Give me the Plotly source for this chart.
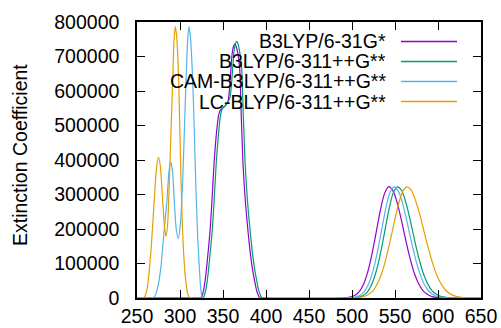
import plotly.graph_objects as go

# ---- data ----
labels = ["B3LYP/6-31G*", "B3LYP/6-311++G**", "CAM-B3LYP/6-311++G**", "LC-BLYP/6-311++G**"]
colors = ["#9400D3", "#009E73", "#56B4E9", "#E69F00"]

b3_631_x = [250, 318, 324.4, 327, 329.1, 332, 334.9, 337, 339.5, 342.2, 345, 347.3, 351.9, 355.8, 358.5, 360.5,
            362.2, 363.6, 365.2, 367.2, 369.4, 371.3, 373.3, 376, 379.1, 382, 384.5, 386.9, 389.5, 392.7, 397, 490,
            496, 503, 508, 513, 518, 523, 528, 533, 538, 543, 548, 553, 558, 563, 568, 573, 578, 583, 588, 593, 601, 610, 650]
b3_631_y = [0, 0, 1000, 18000, 48000, 115000, 193000, 275000, 386000, 473000, 531000, 546000, 555000, 570000, 638000, 705000,
            729000, 736000, 730000, 710000, 665000, 525000, 386000, 280000, 193000, 125000, 80000, 48000, 18000, 1000, 0, 0,
            1600, 7000, 17000, 38000, 73000, 125000, 189000, 255000, 304000, 323000, 309000, 272000, 219000, 162000, 110000, 68000, 39000, 20000, 10000, 4000, 1000, 0, 0]

b3_311_x = [250, 321, 327, 329.5, 331.6, 334.5, 337.4, 339.5, 342, 344.7, 347.5, 349.8, 354.3, 358, 360.8, 362.8,
            364.5, 365.8, 367.3, 369.3, 371.6, 373.6, 375.8, 378.5, 381.6, 384.5, 387, 389.4, 392, 395.3, 399, 493,
            506, 513, 518, 523, 528, 533, 538, 543, 548, 553, 558, 563, 568, 573, 578, 583, 588, 593, 598, 603, 611, 620, 650]
b3_311_y = [0, 0, 1000, 18000, 48000, 115000, 193000, 275000, 386000, 473000, 535000, 552000, 562000, 580000, 650000, 715000,
            738000, 744000, 738000, 715000, 670000, 530000, 386000, 280000, 193000, 125000, 80000, 48000, 18000, 1000, 0, 0,
            1700, 7500, 18000, 40000, 76000, 128000, 192000, 257000, 305000, 322000, 310000, 274000, 222000, 165000, 113000, 71000, 41000, 21500, 11000, 4600, 1200, 0, 0]

cam_x = [250, 267, 270.1, 274, 277.9, 281, 284.9, 287.3, 289.2, 291.2, 293.4, 295.6, 298, 300.5, 303.1, 305, 307, 309,
         310.5, 312.2, 314.8, 316.8, 318.6, 320.5, 322.4, 324, 325.5, 328, 495,
         502, 509, 514, 519, 524, 529, 534, 539, 544, 549, 554, 559, 564, 569, 574, 579, 584, 589, 594, 599, 607, 616, 650]
cam_y = [0, 0, 3000, 30000, 91600, 180000, 285000, 370000, 394000, 370000, 280000, 200000, 172000, 215000, 338000, 480000, 628000, 750000,
         787000, 755000, 628000, 470000, 310000, 180000, 91600, 30000, 5000, 0, 0,
         1700, 7500, 18000, 39000, 75000, 127000, 191000, 256000, 305000, 322000, 309000, 273000, 221000, 164000, 112000, 70000, 40000, 21000, 10500, 4500, 1100, 0, 0]

lc_x = [250, 255, 258.5, 262, 266.3, 270.1, 272.6, 274.8, 277, 279.9, 282, 283.7, 285.5, 287.6, 289.5, 291.5, 293,
        294.5, 296.2, 298.5, 301.2, 303.1, 305, 307, 309, 310.8, 314, 500,
        509, 517, 524, 529, 534, 539, 544, 549, 554, 559, 564, 569, 574, 579, 584, 589, 594, 599, 604, 609, 614, 622, 630, 640, 650]
lc_y = [0, 0, 2000, 30000, 140000, 285000, 375000, 407500, 385000, 280000, 205000, 178600, 210000, 338000, 480000, 628000, 745000,
        787000, 755000, 628000, 338000, 188000, 100000, 43000, 12000, 1000, 0, 0,
        1600, 7000, 20000, 39000, 68000, 109000, 161000, 218000, 271000, 309000, 322000, 312000, 282000, 240000, 190000, 142000, 99000, 64000, 39000, 22500, 12000, 4000, 1000, 0, 0]

series_x = [b3_631_x, b3_311_x, cam_x, lc_x]
series_y = [b3_631_y, b3_311_y, cam_y, lc_y]

x_ticks = [250, 300, 350, 400, 450, 500, 550, 600, 650]
y_ticks = [0, 100000, 200000, 300000, 400000, 500000, 600000, 700000, 800000]
y_title = "Extinction Coefficient"

FONT = "Liberation Sans, Arial, sans-serif"
FS = 19.5

# plot-area geometry in pixels
L, R, T, B = 137, 481, 22, 298
PW, PH = R - L, B - T

fig = go.Figure()
for lab, col, xs, ys in zip(labels, colors, series_x, series_y):
    fig.add_trace(go.Scatter(x=xs, y=ys, mode="lines", name=lab,
                             line=dict(color=col, width=1.2, shape="spline", smoothing=0.7),
                             showlegend=False))

# gnuplot-style key: right-aligned text with the line sample on its right
for i, (lab, col) in enumerate(zip(labels, colors)):
    yp = 41.5 + 20 * i
    yfrac = 1 - (yp - T) / PH
    fig.add_annotation(x=(388 - L) / PW, y=yfrac, xref="paper", yref="paper",
                       text=lab, showarrow=False, xanchor="right", yanchor="middle",
                       font=dict(family=FONT, size=FS, color="black"))
    fig.add_shape(type="line", xref="paper", yref="paper",
                  x0=(401 - L) / PW, x1=(457 - L) / PW, y0=yfrac, y1=yfrac,
                  line=dict(color=col, width=1.5))

# y-axis title
fig.add_annotation(x=(20 - L) / PW, y=1 - (155 - T) / PH, xref="paper", yref="paper",
                   text=y_title, textangle=-90, showarrow=False,
                   xanchor="center", yanchor="middle",
                   font=dict(family=FONT, size=19.5, color="black"))

fig.update_layout(
    width=501, height=328,
    margin=dict(l=L, r=501 - R, t=T, b=328 - B, autoexpand=False),
    paper_bgcolor="white", plot_bgcolor="white",
    font=dict(family=FONT, size=FS, color="black"),
)
fig.update_xaxes(range=[250, 650], tickvals=x_ticks, ticktext=[str(v) for v in x_ticks],
                 ticks="inside", ticklen=8, tickwidth=1.2, tickcolor="black", automargin=False,
                 showline=True, linecolor="black", linewidth=1.5, mirror="allticks",
                 showgrid=False, zeroline=False)
fig.update_yaxes(range=[0, 800000], tickvals=y_ticks, ticktext=[str(v) for v in y_ticks],
                 ticks="inside", ticklen=8, tickwidth=1.2, tickcolor="black", automargin=False,
                 showline=True, linecolor="black", linewidth=1.5, mirror="allticks",
                 showgrid=False, zeroline=False, ticklabelstandoff=12)

fig.write_html("out.html", config={"displayModeBar": False},
               post_script="document.body.style.margin='0';document.body.style.overflow='hidden';")
